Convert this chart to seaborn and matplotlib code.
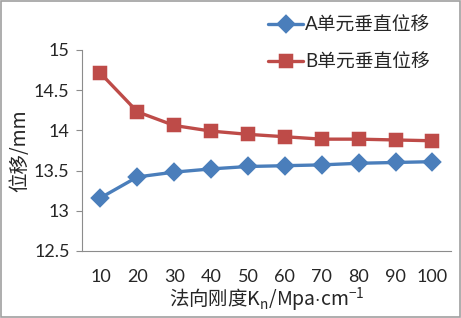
import pandas as pd
import numpy as np
import seaborn as sns
import matplotlib.pyplot as plt
from matplotlib.patches import Rectangle

# Data
kn = [10, 20, 30, 40, 50, 60, 70, 80, 90, 100]
disp_a = [13.16, 13.42, 13.48, 13.52, 13.55, 13.56, 13.57, 13.59, 13.60, 13.61]
disp_b = [14.71, 14.23, 14.06, 13.99, 13.95, 13.92, 13.89, 13.89, 13.88, 13.87]
labels = ["A单元垂直位移", "B单元垂直位移"]
yticks = [12.5, 13, 13.5, 14, 14.5, 15]

df = pd.DataFrame({
    "Kn": kn * 2,
    "disp": disp_a + disp_b,
    "series": [labels[0]] * len(kn) + [labels[1]] * len(kn),
})

sns.set_style("white")
plt.rcParams['font.family'] = ['Lato', 'Noto Sans CJK SC', 'DejaVu Sans']
plt.rcParams['mathtext.fontset'] = 'custom'
plt.rcParams['mathtext.rm'] = 'Noto Sans CJK SC'
fontsize = 13
grey = "#8c8c8c"

fig = plt.figure(figsize=(4.61, 3.18), dpi=100)
ax = fig.add_axes([0.178, 0.211, 0.8, 0.632])

sns.pointplot(data=df, x="Kn", y="disp", hue="series", ax=ax,
              palette=["#4A7EBB", "#BE4B48"], markers=["D", "s"],
              linestyles=["-", "-"], markersize=8.5, linewidth=2.4,
              errorbar=None)

ax.set_ylim(12.5, 15)
ax.set_yticks(yticks)
ax.set_yticklabels([f"{v:g}" for v in yticks], fontsize=fontsize)
ax.set_xlim(-0.5, 9.5)
ax.set_xticks(range(len(kn)))
ax.set_xticklabels([str(k) for k in kn], fontsize=fontsize)
ax.set_xticks(np.arange(-0.5, 10, 1.0), minor=True)
ax.tick_params(axis="x", which="major", length=0, pad=13)
ax.tick_params(axis="x", which="minor", length=4, color=grey, width=0.8)
ax.tick_params(axis="y", length=4, color=grey, width=0.8, left=True, pad=5)

for side in ["top", "right"]:
    ax.spines[side].set_visible(False)
for side in ["left", "bottom"]:
    ax.spines[side].set_color(grey)
    ax.spines[side].set_linewidth(0.8)

ax.set_ylabel("位移/mm", fontsize=14, labelpad=3,
              family=['Noto Sans CJK SC', 'DejaVu Sans'])
ax.set_xlabel("法向刚度K$_\\mathrm{n}$/Mpa$\\cdot$cm$^{\\mathrm{-1}}$", fontsize=14,
              labelpad=0, family=['Noto Sans CJK SC', 'DejaVu Sans'])

ax.legend(loc="upper left", bbox_to_anchor=(0.581, 0.948),
          bbox_transform=fig.transFigure, frameon=False,
          prop={'family': ['Lato', 'Noto Sans CJK SC'], 'size': 13.5},
          handlelength=1.9, handletextpad=0.1, borderaxespad=0, borderpad=0,
          labelspacing=1.05)

fig.patches.append(Rectangle((0.003, 0.004), 0.994, 0.992, transform=fig.transFigure,
                             fill=False, edgecolor="#a0a0a0", linewidth=1.2))

plt.savefig("out.png", dpi=100)
